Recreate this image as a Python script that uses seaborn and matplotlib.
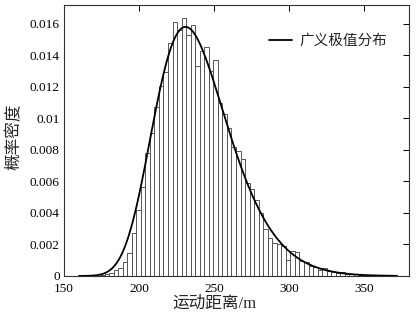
import numpy as np
import pandas as pd
import matplotlib
matplotlib.use("Agg")
import matplotlib.pyplot as plt
import seaborn as sns

# Histogram of movement distance (probability density per bin)
bin_start = 174.0
bin_width = 3.02
density = [
    0.00005, 0.00011, 0.00017, 0.00038, 0.00049, 0.00091, 0.00144, 0.00271,
    0.00419, 0.00567, 0.00779, 0.0091, 0.01075, 0.01206, 0.01297, 0.0148,
    0.0161, 0.0156, 0.01636, 0.0153, 0.0159, 0.01333, 0.01424, 0.0145,
    0.0130, 0.01367, 0.0110, 0.0103, 0.0094, 0.0082, 0.0079, 0.0074,
    0.0059, 0.0055, 0.0048, 0.0040, 0.0030, 0.0024, 0.0021, 0.0020,
    0.0019, 0.0010, 0.0016, 0.0015, 0.00095, 0.0009, 0.0006, 0.00057,
    0.0004, 0.0005, 0.0003, 0.00028, 0.0002, 0.00022, 0.00015, 0.00012,
    0.00014, 0.00008, 0.00005, 0.00003,
]

# Fitted generalized extreme value distribution (location, scale, shape)
gev_mu, gev_sigma, gev_k = 228.5, 23.4, -0.1

x_ticks = [150, 200, 250, 300, 350]
y_ticks = [0, 0.002, 0.004, 0.006, 0.008, 0.01, 0.012, 0.014, 0.016]
y_tick_labels = ["0", "0.002", "0.004", "0.006", "0.008", "0.01",
                 "0.012", "0.014", "0.016"]
x_label = "运动距离/m"
y_label = "概率密度"
legend_label = "广义极值分布"

n_bins = len(density)
bin_end = bin_start + bin_width * n_bins
centers = bin_start + bin_width * (np.arange(n_bins) + 0.5)
hist_df = pd.DataFrame({"distance": centers, "density": density})


def gev_pdf(x, mu, sigma, k):
    z = (x - mu) / sigma
    base = 1 + k * z
    out = np.zeros_like(x, dtype=float)
    ok = base > 0
    t = base[ok] ** (-1 / k)
    out[ok] = t ** (k + 1) * np.exp(-t) / sigma
    return out


xs = np.linspace(160, 372, 500)
curve_df = pd.DataFrame({"distance": xs,
                         "pdf": gev_pdf(xs, gev_mu, gev_sigma, gev_k)})

sns.set_theme(style="white")
plt.rcParams["font.family"] = ["Liberation Serif", "Noto Sans CJK SC"]
plt.rcParams["axes.unicode_minus"] = False

fig = plt.figure(figsize=(4.18, 3.22), dpi=100)
ax = fig.add_axes([0.153, 0.143, 0.826, 0.842])

sns.histplot(data=hist_df, x="distance", weights="density", bins=n_bins,
             binrange=(bin_start, bin_end), stat="count", color="white",
             edgecolor="#5a5450", linewidth=0.7, alpha=1.0, ax=ax)
sns.lineplot(data=curve_df, x="distance", y="pdf", color="black",
             linewidth=1.3, label=legend_label, ax=ax)

ax.set_xlim(150, 380)
ax.set_ylim(0, 0.0172)
ax.set_xticks(x_ticks)
ax.set_xticklabels([str(v) for v in x_ticks])
ax.set_yticks(y_ticks)
ax.set_yticklabels(y_tick_labels)
ax.tick_params(direction="in", top=True, right=True, length=4, width=0.7,
               labelsize=9.5, colors="black")
ax.tick_params(axis="x", pad=5)
ax.tick_params(axis="y", pad=3)
for sp in ax.spines.values():
    sp.set_color("#333333")
    sp.set_linewidth(0.8)

ax.set_xlabel(x_label, fontsize=12)
ax.xaxis.set_label_coords(0.435, -0.072)
ax.set_ylabel(y_label, fontsize=12)
ax.yaxis.set_label_coords(-0.118, 0.515)

leg = ax.legend(loc="upper right", bbox_to_anchor=(0.975, 0.94), frameon=False,
                fontsize=10.5, handlelength=1.6, handletextpad=0.5)

fig.savefig("out.png", dpi=100)
